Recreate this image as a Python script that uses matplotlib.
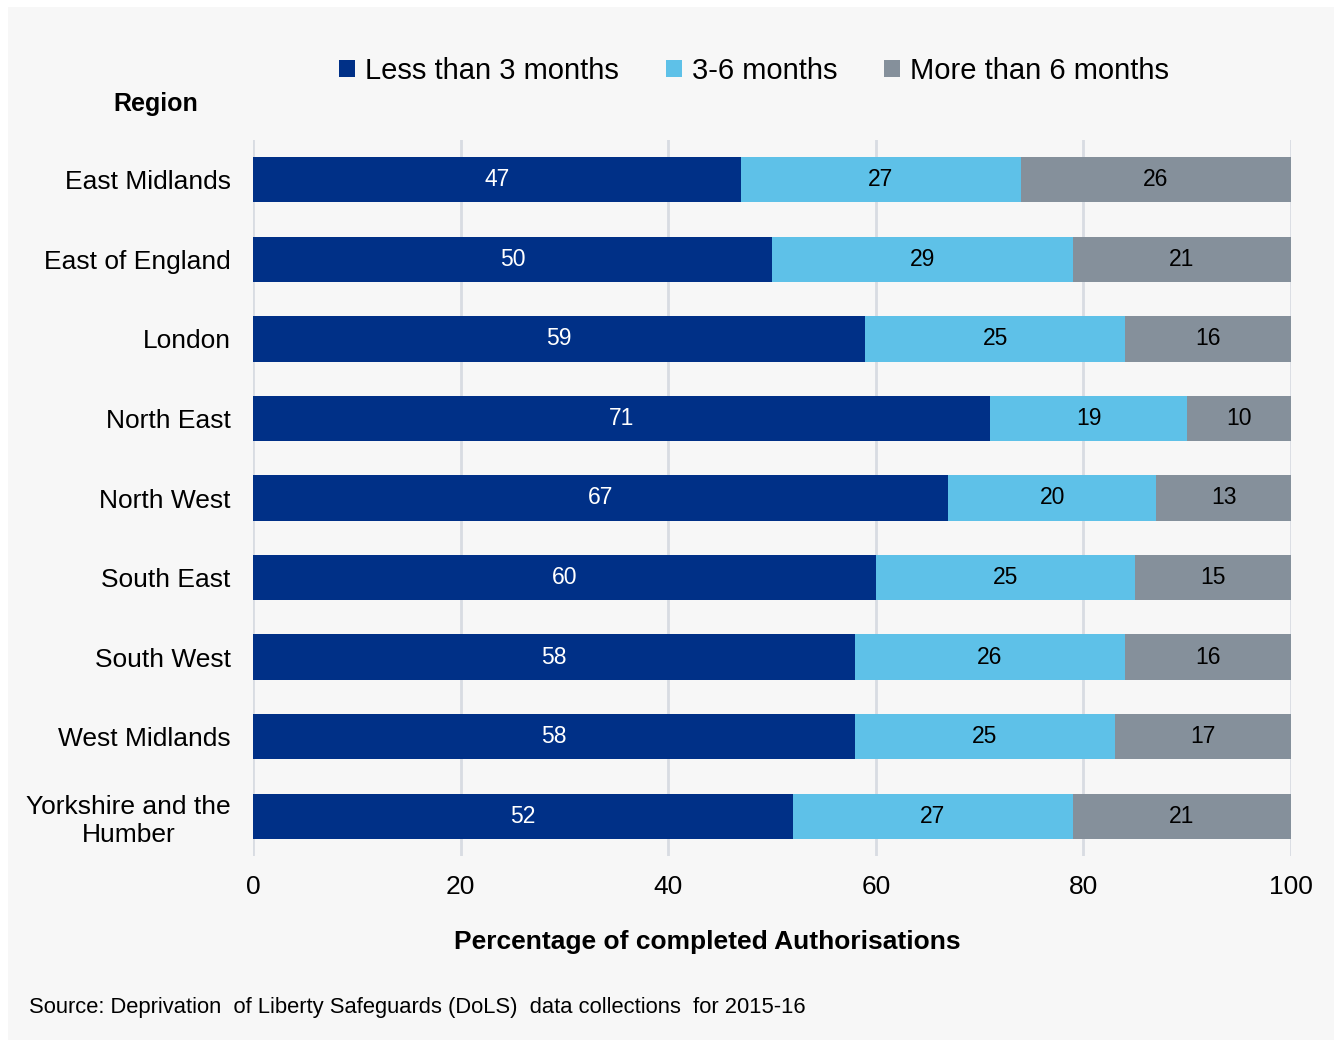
import numpy as np
import matplotlib.pyplot as plt

plt.rcParams['font.family'] = ['Liberation Sans', 'DejaVu Sans']

regions = ['East Midlands', 'East of England', 'London', 'North East', 'North West',
           'South East', 'South West', 'West Midlands', 'Yorkshire and the\nHumber']
under_3 = [47, 50, 59, 71, 67, 60, 58, 58, 52]
from_3_to_6 = [27, 29, 25, 19, 20, 25, 26, 25, 27]
over_6 = [26, 21, 16, 10, 13, 15, 16, 17, 21]
series_names = ['Less than 3 months', '3-6 months', 'More than 6 months']
colours = ['#003087', '#5ec1e8', '#85909b']
label_colours = ['white', 'black', 'black']

bg = '#f7f7f7'
fig = plt.figure(figsize=(13.34, 10.40), dpi=100)
fig.patch.set_facecolor('white')
# grey panel inset from the top-left corner
fig.patches.append(plt.Rectangle((8 / 1334, 0), 1, 1 - 7 / 1040, transform=fig.transFigure,
                                 facecolor=bg, edgecolor='none', zorder=-10))

ax = fig.add_axes([253 / 1334, 1 - 856 / 1040, (1291 - 253) / 1334, (856 - 140) / 1040])
ax.set_facecolor(bg)

y = np.arange(len(regions))
left = np.zeros(len(regions))
for vals, name, col, tcol in zip([under_3, from_3_to_6, over_6], series_names, colours, label_colours):
    bars = ax.barh(y, vals, left=left, height=0.57, color=col, label=name, zorder=3)
    ax.bar_label(bars, labels=[str(v) for v in vals], label_type='center',
                 color=tcol, fontsize=16.5)
    left += np.array(vals)

ax.set_xlim(0, 100)
ax.set_ylim(len(regions) - 0.5, -0.5)
ax.set_xticks([0, 20, 40, 60, 80, 100])
ax.set_yticks(y)
ax.set_yticklabels(regions, fontsize=19)
for lab in ax.get_yticklabels():
    lab.set_multialignment('center')
ax.tick_params(axis='y', length=0, pad=16)
ax.tick_params(axis='x', length=0, pad=14, labelsize=19)
ax.grid(axis='x', color='#d8dce2', linewidth=2, zorder=1)
ax.set_axisbelow(True)
for s in ax.spines.values():
    s.set_visible(False)

ax.set_xlabel('Percentage of completed Authorisations', fontsize=19, fontweight='bold')
ax.xaxis.set_label_coords((707 - 253) / 1038, (856 - 930) / 716)

fig.text(156 / 1334, 1 - 104 / 1040, 'Region', fontsize=18, fontweight='bold',
         ha='center', va='center')
fig.text(29 / 1334, 1 - 1008 / 1040,
         'Source: Deprivation  of Liberty Safeguards (DoLS)  data collections  for 2015-16',
         fontsize=15.8, ha='left', va='center')

fig.legend(loc='center', bbox_to_anchor=(754 / 1334, 1 - 71 / 1040), ncol=3, frameon=False,
           fontsize=21, handlelength=0.55, handleheight=0.55, handletextpad=0.35,
           columnspacing=1.6)

fig.savefig('out.png', dpi=100, facecolor=fig.get_facecolor())
